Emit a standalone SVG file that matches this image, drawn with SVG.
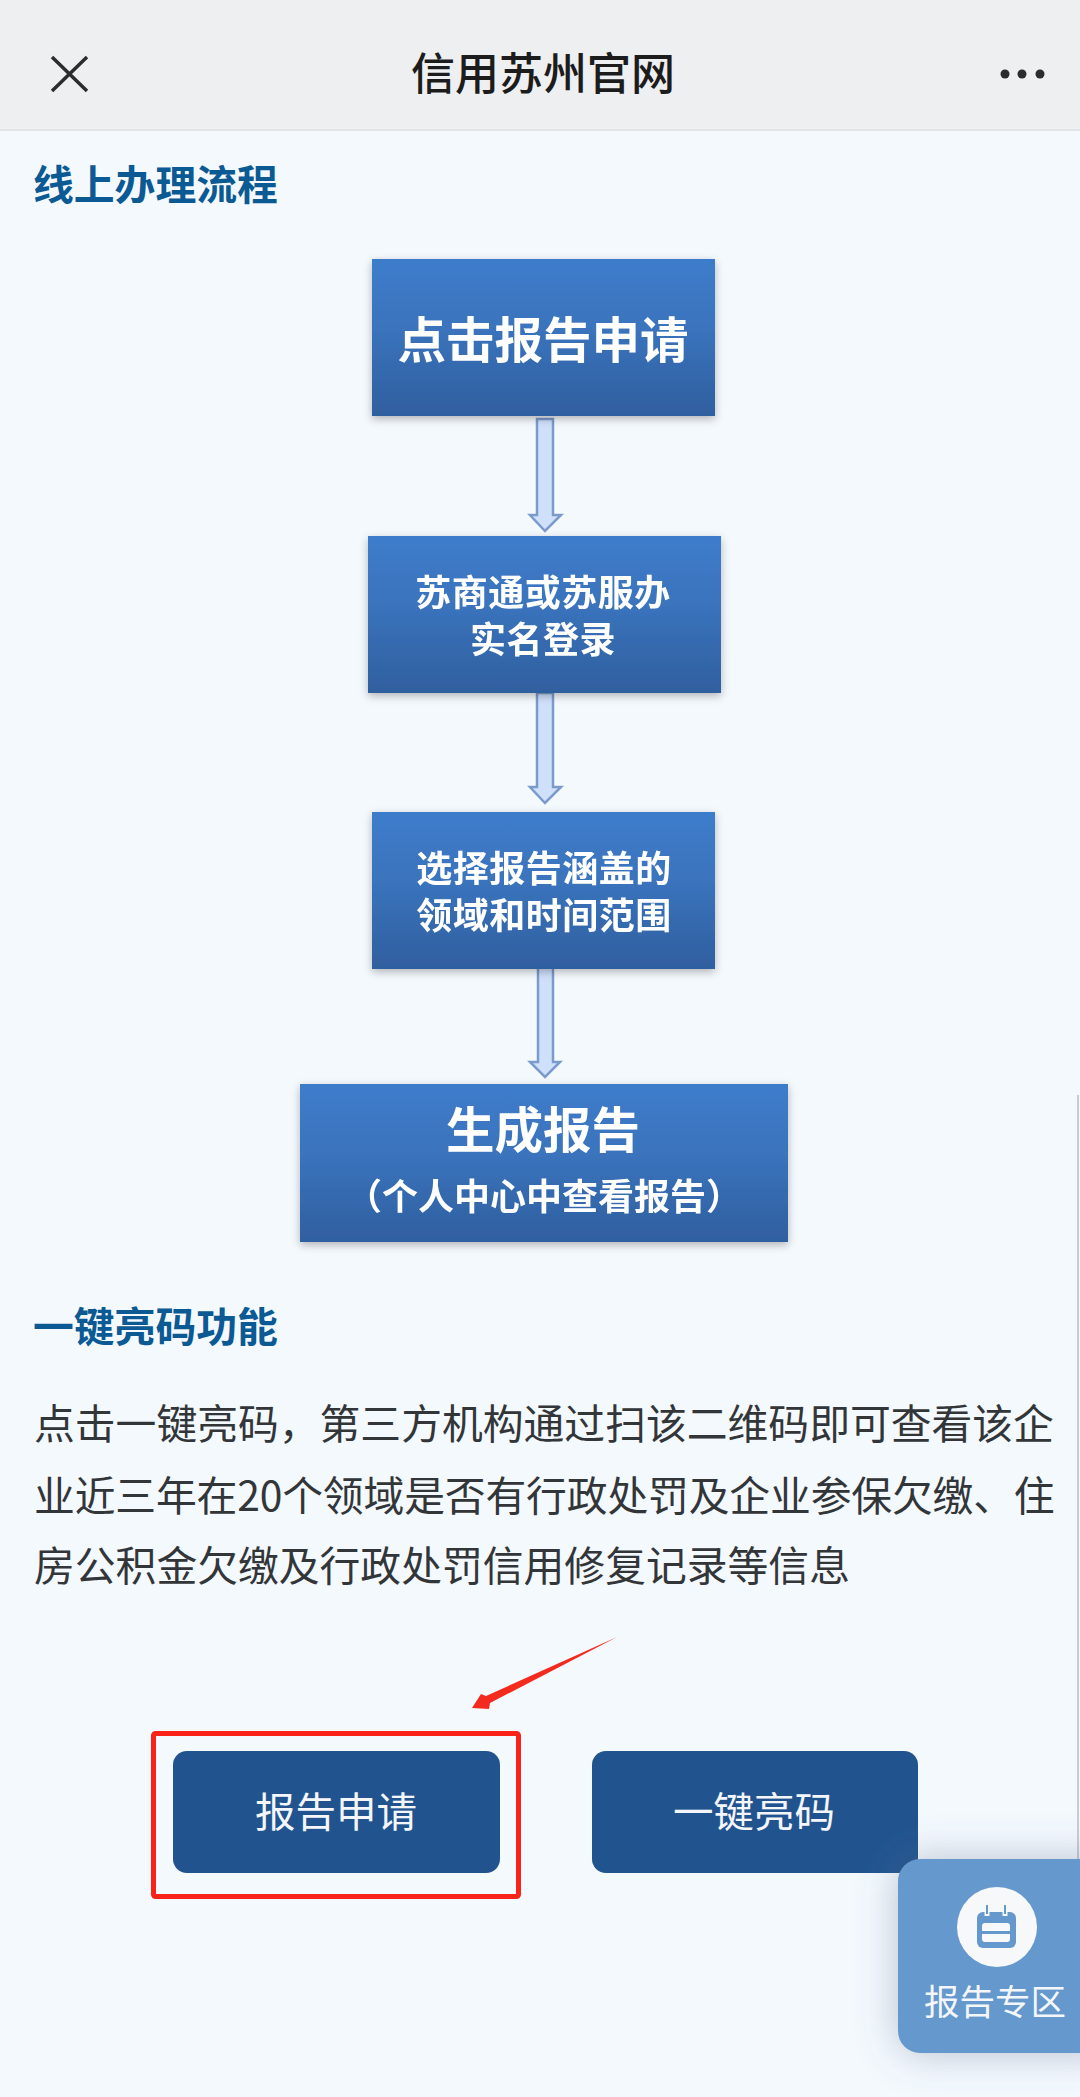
<svg xmlns="http://www.w3.org/2000/svg" width="1080" height="2097" viewBox="0 0 1080 2097">
<style>
text{font-family:"Noto Sans CJK SC","Liberation Sans",sans-serif}
.c{text-anchor:middle}
.box{fill:url(#g);filter:url(#sh)}
.w{fill:#fff;font-weight:700;filter:url(#bl)}
.s{font-size:36px;letter-spacing:.5px}
.h{fill:#0b5a94;font-size:40.800px;font-weight:700}
.b{fill:#333639;font-size:40.800px}
.btn{fill:#21548f}
.bt{fill:#f4f6fa;font-size:40.500px;text-anchor:middle}
.arr{fill:#cfe0fb;stroke:#7c9bcd;stroke-width:2.500px;stroke-linejoin:miter}
</style>
<defs>
<linearGradient id="g" x1="0" y1="0" x2="0" y2="1"><stop offset="0" stop-color="#3e7ccb"/><stop offset=".45" stop-color="#3a73bc"/><stop offset="1" stop-color="#2f5f9f"/></linearGradient>
<filter id="sh" x="-5%" y="-5%" width="110%" height="115%"><feDropShadow dx="0" dy="3" stdDeviation="4" flood-color="#000" flood-opacity=".28"/></filter>
<filter id="sh2" x="-40%" y="-30%" width="170%" height="160%"><feDropShadow dx="0" dy="0" stdDeviation="20" flood-color="#5a6a8a" flood-opacity=".4"/></filter>
<filter id="bl" x="-5%" y="-20%" width="110%" height="140%"><feGaussianBlur stdDeviation="0.7"/></filter>
</defs>
<rect width="1080" height="2097" fill="#f4f9fe"/>
<rect x="1077" y="1095" width="2" height="770" fill="#c9ccd2"/>
<g id="header">
<rect width="1080" height="130" fill="#eeeff1"/>
<rect y="129" width="1080" height="2" fill="#e2e3e6"/>
<path d="M52 57 L87 91 M87 57 L52 91" stroke="#2c2c2c" stroke-width="3.500" fill="none"/>
<text class="c" x="543" y="90" font-size="44" font-weight="500" fill="#1c1c1c">信用苏州官网</text>
<circle cx="1005" cy="74" r="4.500" fill="#2c2c2c"/><circle cx="1022" cy="74" r="4.500" fill="#2c2c2c"/><circle cx="1040" cy="74" r="4.500" fill="#2c2c2c"/>
</g>
<text class="h" x="33" y="200">线上办理流程</text>
<g id="connectors">
<path class="arr" d="M537 419H553V515H561L545 531L530 515H537Z"/>
<path class="arr" d="M537 693H553V787H561L545 803L530 787H537Z"/>
<path class="arr" d="M538 966H553V1062H560L545 1077L530 1062H538Z"/>
<path d="M617 1637 L486 1696 L481 1694 L472 1708 L489 1709 L490 1703Z" fill="#f42a1e"/>
</g>
<g id="node-1"><rect class="box" x="372" y="259" width="343" height="157"/><text class="c w" x="543" y="358" font-size="48.500">点击报告申请</text></g>
<g id="node-2"><rect class="box" x="368" y="536" width="353" height="157"/><text class="c w s" x="543" y="606">苏商通或苏服办</text><text class="c w s" x="543" y="653">实名登录</text></g>
<g id="node-3"><rect class="box" x="372" y="812" width="343" height="157"/><text class="c w s" x="544" y="882">选择报告涵盖的</text><text class="c w s" x="544" y="929">领域和时间范围</text></g>
<g id="node-4"><rect class="box" x="300" y="1084" width="488" height="158"/><text class="c w" x="543" y="1148" font-size="48.500">生成报告</text><text class="c w" x="544" y="1210" font-size="36">（个人中心中查看报告）</text></g>
<text class="h" x="33" y="1342">一键亮码功能</text>
<text class="b" x="34" y="1439">点击一键亮码，第三方机构通过扫该二维码即可查看该企</text>
<text class="b" x="34" y="1511" letter-spacing="-.15">业近三年在20个领域是否有行政处罚及企业参保欠缴、住</text>
<text class="b" x="34" y="1581">房公积金欠缴及行政处罚信用修复记录等信息</text>
<g id="button-report">
<rect class="btn" x="173" y="1751" width="327" height="122" rx="14"/>
<text class="bt" x="336" y="1827">报告申请</text>
<rect x="153.500" y="1733.500" width="365" height="163" rx="2" fill="none" stroke="#f9231a" stroke-width="5"/>
</g>
<g id="button-code"><rect class="btn" x="592" y="1751" width="326" height="122" rx="14"/><text class="bt" x="754" y="1827">一键亮码</text></g>
<g id="float">
<rect x="898" y="1859" width="220" height="194" rx="22" fill="#6598cc" filter="url(#sh2)"/>
<circle cx="997" cy="1927" r="40" fill="#f6f8fa"/>
<rect x="977" y="1912" width="39" height="36" rx="6" fill="#6598cc"/>
<rect x="982" y="1923" width="28" height="19" rx="3" fill="#f6f8fa"/>
<rect x="982" y="1931" width="28" height="3" fill="#6598cc"/>
<path d="M987 1905V1916M1005 1905V1916" stroke="#f6f8fa" stroke-width="5"/>
<path d="M987 1905V1914M1005 1905V1914" stroke="#6598cc" stroke-width="2"/>
<text x="995" y="2015" class="c" font-size="35.500" fill="#f4f6fa">报告专区</text>
</g>
</svg>
